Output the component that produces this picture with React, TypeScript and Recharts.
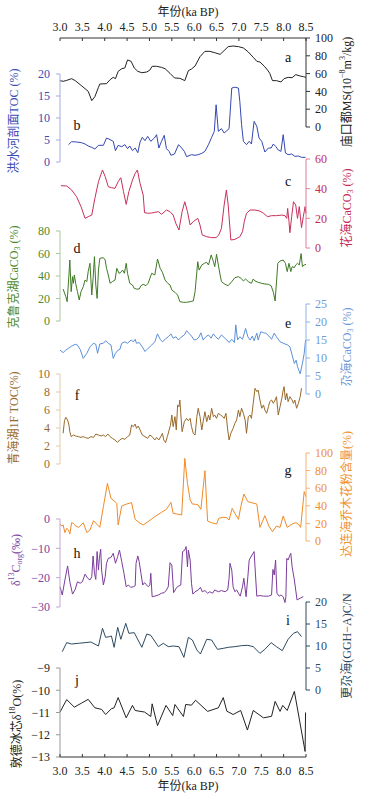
import React from 'react';
import { LineChart, Line, XAxis, YAxis } from 'recharts';

const W = 373;
const H = 801;
const X_LEFT = 60;
const X_RIGHT = 306;
const FONT = '"Liberation Serif", "Times New Roman", "Noto Sans CJK SC", serif';

const ageTicks = [3.0, 3.5, 4.0, 4.5, 5.0, 5.5, 6.0, 6.5, 7.0, 7.5, 8.0, 8.5];

// a 庙口都 MS
const msCurve: [number, number][] = [
  [3.0, 52.1], [3.07, 51.3], [3.15, 52.4], [3.26, 54.3], [3.34, 52.1], [3.45, 47.6], [3.56, 43.1],
  [3.63, 40.1], [3.71, 29.6], [3.78, 34.1], [3.86, 44.6], [3.89, 48.3], [4.04, 48.7], [4.12, 53.2],
  [4.19, 55.8], [4.24, 54.3], [4.3, 62.5], [4.38, 65.5], [4.45, 66.3], [4.51, 75.3], [4.59, 73.8],
  [4.66, 66.3], [4.74, 62.5], [4.83, 61.0], [4.94, 61.8], [5.01, 64.0], [5.06, 68.2], [5.16, 68.2],
  [5.27, 67.0], [5.35, 65.5], [5.46, 60.3], [5.56, 55.1], [5.68, 54.7], [5.79, 52.1], [5.87, 63.3],
  [5.94, 65.2], [6.02, 68.5], [6.13, 79.0], [6.24, 85.0], [6.35, 85.0], [6.46, 83.5], [6.58, 81.6],
  [6.69, 86.9], [6.76, 90.3], [6.87, 91.0], [6.99, 90.3], [7.1, 88.8], [7.21, 84.3], [7.32, 78.3],
  [7.4, 73.8], [7.47, 73.0], [7.57, 68.2], [7.64, 64.0], [7.69, 60.3], [7.75, 52.1], [7.84, 52.1],
  [7.94, 50.6], [8.01, 54.3], [8.1, 55.8], [8.19, 55.4], [8.27, 58.8], [8.37, 57.3], [8.44, 56.6],
  [8.5, 55.8],
];

// b 洪水河剖面 TOC
const hongshuiToc: [number, number][] = [
  [3.19, 3.94], [3.26, 4.62], [3.37, 4.55], [3.48, 4.39], [3.56, 4.09], [3.63, 3.64], [3.71, 3.33],
  [3.78, 2.95], [3.86, 3.79], [3.97, 3.79], [4.04, 5.45], [4.12, 5.08], [4.19, 4.7], [4.24, 2.58],
  [4.3, 3.79], [4.38, 3.48], [4.45, 3.94], [4.51, 3.03], [4.56, 3.64], [4.62, 2.58], [4.68, 3.18],
  [4.74, 2.12], [4.79, 4.55], [4.84, 5.61], [4.9, 4.85], [4.96, 5.83], [5.03, 4.7], [5.11, 5.45],
  [5.16, 6.21], [5.21, 3.18], [5.27, 4.7], [5.33, 6.06], [5.38, 3.03], [5.44, 2.42], [5.48, 1.52],
  [5.56, 1.82], [5.65, 3.94], [5.72, 3.18], [5.78, 2.42], [5.83, 1.21], [5.94, 1.67], [6.02, 1.52],
  [6.09, 1.67], [6.17, 1.97], [6.24, 2.42], [6.32, 3.94], [6.39, 5.61], [6.45, 6.97], [6.49, 13.0],
  [6.54, 6.97], [6.61, 7.58], [6.67, 6.59], [6.73, 7.12], [6.78, 7.58], [6.84, 16.8], [6.91, 17.0],
  [6.99, 16.8], [7.02, 13.8], [7.06, 8.48], [7.1, 4.7], [7.17, 3.94], [7.23, 4.7], [7.28, 4.09],
  [7.34, 9.24], [7.4, 8.11], [7.45, 5.45], [7.51, 4.7], [7.58, 2.27], [7.66, 3.18], [7.72, 3.18],
  [7.77, 4.09], [7.82, 3.56], [7.88, 2.73], [7.94, 2.42], [7.99, 6.21], [8.04, 2.05], [8.1, 1.67],
  [8.18, 1.82], [8.25, 1.29], [8.33, 1.36], [8.4, 1.06], [8.49, 1.06],
];

// c 花海 CaCO3
const huahaiCaco3: [number, number][] = [
  [3.02, 42.0], [3.15, 41.8], [3.26, 39.1], [3.37, 34.6], [3.47, 27.9], [3.56, 20.0], [3.63, 21.1],
  [3.71, 22.2], [3.78, 33.5], [3.86, 44.7], [3.95, 52.6], [4.01, 48.1], [4.08, 41.3], [4.15, 40.7],
  [4.23, 40.2], [4.3, 44.7], [4.36, 47.4], [4.42, 38.0], [4.48, 29.4], [4.54, 38.0], [4.62, 45.8],
  [4.68, 50.3], [4.73, 52.6], [4.79, 43.6], [4.86, 35.7], [4.89, 23.8], [4.97, 23.4], [5.05, 23.6],
  [5.12, 24.0], [5.2, 24.5], [5.27, 22.7], [5.38, 25.6], [5.46, 24.5], [5.53, 22.2], [5.59, 16.6],
  [5.66, 12.1], [5.73, 24.5], [5.79, 31.2], [5.85, 24.5], [5.91, 15.5], [5.98, 17.8], [6.08, 20.0],
  [6.13, 15.5], [6.18, 8.8], [6.28, 7.6], [6.39, 7.0], [6.49, 7.0], [6.55, 8.8], [6.61, 13.3],
  [6.67, 29.0], [6.72, 39.1], [6.76, 29.0], [6.82, 5.4], [6.91, 5.8], [7.02, 7.6], [7.08, 11.0],
  [7.12, 17.8], [7.17, 23.4], [7.25, 25.6], [7.36, 25.6], [7.47, 24.9], [7.55, 23.4], [7.64, 21.1],
  [7.73, 21.8], [7.84, 21.8], [7.96, 22.2], [8.03, 21.8], [8.07, 20.0], [8.09, 26.7], [8.12, 17.8],
  [8.14, 10.3], [8.18, 21.1], [8.22, 31.2], [8.27, 29.0], [8.31, 20.0], [8.35, 27.9], [8.4, 13.7],
  [8.44, 21.1], [8.48, 27.9], [8.5, 23.4],
];

// d 克鲁克湖 CaCO3
const keluCaco3: [number, number][] = [
  [3.07, 28.4], [3.13, 21.6], [3.16, 17.2], [3.2, 40.9], [3.22, 54.2], [3.25, 26.1], [3.28, 39.4],
  [3.3, 33.5], [3.32, 40.9], [3.35, 33.5], [3.39, 26.1], [3.43, 18.7], [3.47, 26.1], [3.52, 30.5],
  [3.56, 36.4], [3.6, 35.0], [3.63, 43.9], [3.67, 51.3], [3.71, 23.1], [3.74, 37.9], [3.77, 57.2],
  [3.8, 32.0], [3.83, 20.1], [3.86, 45.3], [3.89, 55.7], [3.97, 56.3], [4.01, 54.2], [4.04, 46.8],
  [4.08, 40.9], [4.12, 33.5], [4.17, 35.0], [4.23, 36.4], [4.27, 46.8], [4.32, 42.4], [4.36, 43.3],
  [4.4, 45.3], [4.44, 42.4], [4.48, 51.3], [4.51, 42.4], [4.56, 33.5], [4.62, 32.0], [4.66, 29.0],
  [4.71, 28.4], [4.77, 28.4], [4.81, 31.4], [4.86, 32.6], [4.92, 31.4], [4.97, 33.5], [5.05, 42.4],
  [5.12, 40.9], [5.18, 55.1], [5.24, 46.8], [5.29, 43.3], [5.35, 36.4], [5.41, 33.5], [5.46, 32.0],
  [5.5, 27.6], [5.57, 25.5], [5.63, 23.1], [5.68, 17.2], [5.76, 16.6], [5.83, 16.6], [5.91, 17.2],
  [5.98, 17.8], [6.02, 26.1], [6.08, 52.7], [6.11, 45.3], [6.17, 49.8], [6.23, 51.3], [6.28, 52.1],
  [6.32, 49.8], [6.38, 58.7], [6.43, 52.7], [6.46, 48.3], [6.5, 59.3], [6.54, 49.8], [6.58, 40.9],
  [6.61, 35.0], [6.69, 32.6], [6.76, 31.4], [6.84, 35.0], [6.91, 38.5], [6.99, 39.4], [7.05, 37.9],
  [7.1, 35.6], [7.15, 37.3], [7.21, 35.0], [7.28, 33.5], [7.32, 37.3], [7.36, 35.6], [7.43, 34.4],
  [7.51, 33.5], [7.58, 32.9], [7.66, 32.6], [7.72, 31.4], [7.77, 25.5], [7.81, 17.8], [7.87, 51.3],
  [7.92, 53.3], [7.99, 54.2], [8.04, 51.3], [8.08, 43.9], [8.12, 51.3], [8.16, 43.9], [8.19, 48.3],
  [8.24, 47.4], [8.27, 49.8], [8.31, 51.3], [8.35, 49.8], [8.39, 59.9], [8.42, 48.3], [8.46, 49.8],
  [8.5, 50.4],
];

// e 尕海 CaCO3
const gahaiCaco3: [number, number][] = [
  [3.0, 12.2], [3.07, 11.5], [3.13, 12.2], [3.19, 12.7], [3.26, 13.3], [3.34, 13.8], [3.39, 13.6],
  [3.45, 12.4], [3.52, 9.9], [3.6, 11.3], [3.67, 13.1], [3.75, 14.1], [3.8, 13.8], [3.84, 11.3],
  [3.89, 13.9], [3.97, 14.1], [4.02, 14.8], [4.08, 14.1], [4.14, 13.6], [4.19, 9.9], [4.24, 11.3],
  [4.3, 12.2], [4.34, 12.4], [4.38, 14.1], [4.45, 14.5], [4.51, 14.1], [4.59, 15.0], [4.64, 14.5],
  [4.68, 15.2], [4.71, 14.1], [4.77, 14.3], [4.84, 13.1], [4.9, 11.8], [4.97, 12.7], [5.05, 13.6],
  [5.12, 14.5], [5.18, 16.7], [5.24, 15.2], [5.29, 14.5], [5.35, 15.2], [5.42, 15.9], [5.48, 16.7],
  [5.53, 15.5], [5.59, 15.9], [5.65, 15.0], [5.7, 15.7], [5.78, 16.4], [5.83, 17.6], [5.88, 16.9],
  [5.94, 16.1], [6.0, 15.0], [6.06, 15.2], [6.11, 15.9], [6.15, 17.0], [6.2, 15.0], [6.26, 15.9],
  [6.32, 16.4], [6.38, 15.5], [6.43, 16.7], [6.48, 15.9], [6.54, 15.2], [6.61, 16.4], [6.67, 15.7],
  [6.73, 15.0], [6.78, 14.3], [6.84, 15.2], [6.9, 14.3], [6.93, 19.2], [6.97, 15.0], [7.02, 15.9],
  [7.08, 15.2], [7.15, 18.2], [7.2, 15.9], [7.25, 15.0], [7.3, 16.1], [7.34, 14.8], [7.4, 16.9],
  [7.43, 15.0], [7.49, 17.3], [7.55, 17.0], [7.6, 16.9], [7.67, 16.1], [7.73, 15.2], [7.79, 16.9],
  [7.84, 15.9], [7.92, 14.5], [7.99, 14.1], [8.09, 13.6], [8.14, 13.1], [8.19, 10.8], [8.24, 8.5],
  [8.28, 9.4], [8.31, 7.6], [8.37, 5.6], [8.42, 8.5], [8.46, 11.3], [8.49, 15.0],
];

// f 青海湖 1F TOC
const qinghaiToc: [number, number][] = [
  [3.07, 3.41], [3.1, 4.81], [3.13, 5.19], [3.17, 4.89], [3.2, 4.33], [3.22, 3.59], [3.25, 3.04],
  [3.3, 3.22], [3.35, 3.11], [3.41, 3.04], [3.47, 2.96], [3.52, 3.04], [3.57, 2.93], [3.63, 2.85],
  [3.69, 3.04], [3.75, 2.96], [3.8, 3.33], [3.86, 3.22], [3.92, 3.11], [3.97, 3.22], [4.02, 3.04],
  [4.07, 3.33], [4.12, 3.04], [4.17, 2.85], [4.23, 2.67], [4.28, 2.41], [4.34, 2.67], [4.39, 2.85],
  [4.45, 2.74], [4.51, 3.04], [4.56, 3.22], [4.6, 4.33], [4.64, 4.15], [4.68, 4.44], [4.71, 3.96],
  [4.75, 4.22], [4.79, 3.78], [4.84, 3.22], [4.9, 3.04], [4.96, 2.85], [5.01, 3.22], [5.06, 3.04],
  [5.12, 2.67], [5.16, 2.96], [5.21, 2.67], [5.26, 3.11], [5.29, 3.41], [5.32, 2.67], [5.36, 2.37],
  [5.4, 3.04], [5.44, 3.78], [5.47, 4.33], [5.5, 5.44], [5.53, 4.15], [5.57, 5.26], [5.6, 3.78],
  [5.63, 6.56], [5.66, 6.37], [5.68, 7.11], [5.7, 5.63], [5.73, 3.59], [5.78, 4.7], [5.83, 5.07],
  [5.87, 4.81], [5.91, 5.07], [5.94, 4.15], [5.98, 3.41], [6.02, 3.22], [6.06, 5.26], [6.09, 6.19],
  [6.13, 5.26], [6.17, 3.78], [6.2, 4.7], [6.24, 5.81], [6.28, 4.7], [6.32, 5.44], [6.35, 4.89],
  [6.39, 6.19], [6.43, 5.26], [6.46, 5.44], [6.5, 5.07], [6.54, 5.63], [6.59, 5.44], [6.64, 5.26],
  [6.67, 5.07], [6.71, 5.63], [6.75, 3.78], [6.78, 2.67], [6.82, 3.41], [6.87, 3.96], [6.91, 4.52],
  [6.95, 4.89], [6.99, 6.0], [7.02, 5.26], [7.06, 6.19], [7.1, 5.63], [7.14, 4.89], [7.17, 3.41],
  [7.21, 5.26], [7.25, 5.44], [7.28, 5.07], [7.32, 6.74], [7.36, 8.41], [7.4, 8.04], [7.43, 8.22],
  [7.47, 7.11], [7.51, 6.19], [7.55, 6.56], [7.58, 6.0], [7.62, 5.63], [7.66, 6.37], [7.69, 6.93],
  [7.73, 7.11], [7.77, 6.74], [7.81, 7.11], [7.84, 7.48], [7.88, 5.44], [7.92, 6.37], [7.96, 7.3],
  [7.99, 8.22], [8.01, 8.59], [8.04, 7.11], [8.07, 7.85], [8.1, 6.93], [8.14, 7.48], [8.18, 7.19],
  [8.22, 6.74], [8.25, 7.11], [8.29, 6.19], [8.33, 6.74], [8.37, 7.48], [8.4, 8.41],
];

// g 达连海 乔木花粉含量
const dalianPollen: [number, number][] = [
  [3.0, 19.3], [3.04, 17.0], [3.07, 18.2], [3.11, 9.5], [3.15, 14.4], [3.19, 12.5], [3.22, 8.0],
  [3.26, 20.8], [3.3, 20.1], [3.35, 17.0], [3.42, 15.5], [3.52, 20.8], [3.6, 9.5], [3.67, 12.5],
  [3.75, 23.1], [3.82, 19.3], [3.89, 15.5], [3.97, 39.0], [4.06, 65.5], [4.14, 48.5], [4.23, 44.7],
  [4.27, 42.8], [4.3, 18.2], [4.38, 39.8], [4.49, 42.0], [4.6, 43.6], [4.68, 24.6], [4.77, 20.8],
  [4.86, 18.2], [4.97, 22.0], [5.12, 27.7], [5.27, 32.6], [5.38, 36.0], [5.48, 43.9], [5.53, 31.4],
  [5.61, 30.7], [5.72, 29.5], [5.79, 93.9], [5.85, 65.5], [5.91, 46.6], [5.96, 42.0], [6.03, 41.7],
  [6.09, 40.9], [6.15, 36.0], [6.24, 79.9], [6.3, 22.7], [6.39, 20.8], [6.5, 19.3], [6.55, 25.8],
  [6.65, 26.9], [6.73, 26.5], [6.78, 23.9], [6.85, 37.1], [6.91, 31.4], [6.99, 24.6], [7.04, 38.3],
  [7.11, 53.4], [7.2, 44.7], [7.28, 43.6], [7.4, 42.0], [7.47, 15.5], [7.58, 28.8], [7.67, 17.0],
  [7.75, 10.6], [7.84, 17.0], [7.92, 15.5], [7.99, 28.4], [8.08, 15.5], [8.19, 19.3], [8.27, 20.8],
  [8.33, 19.3], [8.38, 15.5], [8.46, 56.1], [8.5, 50.4],
];

// h δ13C org
const d13cOrg: [number, number][] = [
  [3.0, -23.1], [3.05, -25.9], [3.11, -20.8], [3.17, -16.0], [3.22, -21.4], [3.28, -25.6], [3.34, -24.0],
  [3.39, -21.4], [3.45, -21.9], [3.5, -21.4], [3.56, -18.8], [3.62, -20.2], [3.67, -20.8], [3.71, -19.7],
  [3.74, -12.6], [3.77, -18.5], [3.8, -20.6], [3.83, -11.1], [3.86, -17.4], [3.88, -13.4], [3.91, -10.3],
  [3.93, -17.4], [3.97, -22.5], [4.01, -19.7], [4.04, -15.1], [4.08, -13.4], [4.14, -13.1], [4.19, -11.7],
  [4.24, -15.1], [4.29, -12.8], [4.33, -10.6], [4.38, -14.5], [4.43, -18.5], [4.48, -23.1], [4.53, -22.5],
  [4.58, -23.3], [4.64, -23.1], [4.68, -22.8], [4.7, -15.1], [4.74, -12.6], [4.77, -14.5], [4.81, -18.5],
  [4.85, -22.5], [4.89, -21.7], [4.92, -22.2], [4.97, -23.1], [5.01, -22.5], [5.03, -18.5], [5.06, -26.5],
  [5.12, -26.3], [5.2, -25.9], [5.27, -25.3], [5.33, -25.1], [5.38, -24.2], [5.42, -23.1], [5.46, -14.9],
  [5.5, -15.7], [5.54, -25.1], [5.61, -23.3], [5.66, -22.8], [5.7, -22.5], [5.74, -11.1], [5.79, -10.6],
  [5.82, -9.4], [5.85, -16.3], [5.87, -10.6], [5.91, -14.0], [5.94, -21.9], [5.97, -25.6], [6.02, -24.8],
  [6.09, -24.2], [6.14, -23.3], [6.18, -24.8], [6.24, -24.4], [6.3, -25.3], [6.35, -24.8], [6.41, -25.3],
  [6.46, -24.2], [6.54, -24.8], [6.61, -24.4], [6.69, -24.8], [6.75, -24.2], [6.78, -20.2], [6.8, -15.1],
  [6.84, -17.4], [6.87, -23.1], [6.91, -24.8], [6.95, -24.2], [6.99, -25.3], [7.03, -26.3], [7.08, -23.1],
  [7.11, -20.2], [7.16, -26.5], [7.2, -19.7], [7.23, -14.0], [7.28, -12.6], [7.34, -11.1], [7.36, -16.3],
  [7.4, -26.3], [7.47, -26.1], [7.55, -26.3], [7.66, -26.3], [7.73, -25.9], [7.76, -17.2], [7.79, -19.1],
  [7.82, -14.0], [7.85, -25.3], [7.9, -26.3], [7.94, -25.9], [7.99, -26.5], [8.03, -28.5], [8.05, -26.5],
  [8.07, -13.4], [8.1, -14.0], [8.14, -12.3], [8.16, -11.7], [8.19, -16.3], [8.24, -20.8], [8.3, -27.6],
  [8.37, -27.0], [8.44, -26.5],
];

// i 更尕海 (GGH-A) C/N
const gghCn: [number, number][] = [
  [3.05, 8.71], [3.15, 10.76], [3.26, 10.45], [3.41, 10.61], [3.56, 10.76], [3.69, 10.91], [3.86, 10.0],
  [3.95, 14.02], [4.02, 11.97], [4.1, 12.12], [4.15, 12.27], [4.21, 9.7], [4.29, 14.24], [4.36, 11.52],
  [4.47, 15.15], [4.54, 12.88], [4.66, 13.03], [4.83, 9.7], [4.94, 12.73], [5.03, 12.42], [5.2, 9.85],
  [5.31, 10.61], [5.42, 9.85], [5.53, 10.0], [5.66, 9.85], [5.77, 7.42], [5.87, 11.97], [5.96, 11.36],
  [6.06, 9.09], [6.14, 8.18], [6.28, 11.52], [6.39, 11.36], [6.52, 9.24], [6.65, 9.47], [6.76, 9.7],
  [6.91, 9.85], [7.06, 10.08], [7.2, 10.15], [7.32, 9.85], [7.47, 8.33], [7.58, 9.24], [7.72, 10.76],
  [7.84, 9.85], [7.97, 8.94], [8.1, 11.52], [8.22, 12.88], [8.31, 13.26], [8.4, 12.12],
];

// j 敦德冰芯 δ18O
const dundeD18o: [number, number][] = [
  [3.0, -10.98], [3.15, -10.42], [3.32, -10.76], [3.48, -10.58], [3.63, -10.41], [3.78, -10.79],
  [3.93, -10.86], [4.02, -11.09], [4.15, -10.83], [4.21, -10.79], [4.3, -10.33], [4.48, -11.24],
  [4.62, -10.68], [4.68, -10.91], [4.89, -10.98], [5.03, -11.18], [5.06, -10.61], [5.18, -11.59],
  [5.37, -10.68], [5.52, -11.14], [5.57, -10.64], [5.76, -11.18], [5.81, -10.64], [5.94, -10.67],
  [6.03, -10.45], [6.3, -10.95], [6.54, -10.79], [6.65, -10.33], [6.73, -10.94], [6.87, -11.09],
  [7.04, -10.91], [7.19, -11.79], [7.32, -10.91], [7.55, -11.24], [7.73, -11.17], [7.81, -10.5],
  [7.92, -10.95], [7.98, -10.68], [8.08, -10.91], [8.24, -10.05], [8.48, -12.75], [8.49, -11.0],
];

const minus = (v: number) => String(v).replace('-', '−');

function Sup({ children }: { children: React.ReactNode }) {
  return <tspan fontSize={8} dy={-5}>{children}</tspan>;
}
function Sub({ children }: { children: React.ReactNode }) {
  return <tspan fontSize={8} dy={3}>{children}</tspan>;
}
function Back({ d, children }: { d: number; children: React.ReactNode }) {
  return <tspan dy={d}>{children}</tspan>;
}

interface PanelProps {
  curve: [number, number][];
  top: number;
  bottom: number;
  domain: [number, number];
  ticks: number[];
  side: 'left' | 'right';
  stroke: string;
  textColor: string;
  axisColor: string;
  title: React.ReactNode;
  titleX: number;
  titleY: number;
  letter: string;
  letterX: number;
  letterY: number;
  xAxis?: 'top' | 'bottom';
}

const AXIS_H = 30;

function TopTick(props: any) {
  const { x, y, payload } = props;
  return (
    <g>
      <line x1={x} x2={x} y1={y} y2={y + 3} stroke="#333" />
      <text x={x} y={y - 7.5} textAnchor="middle" fontSize={12} fontFamily={FONT} fill="#222">
        {Number(payload.value).toFixed(1)}
      </text>
    </g>
  );
}

function BottomTick(props: any) {
  const { x, y, payload } = props;
  return (
    <g>
      <line x1={x} x2={x} y1={y} y2={y - 3} stroke="#333" />
      <text x={x} y={y + 18} textAnchor="middle" fontSize={12} fontFamily={FONT} fill="#222">
        {Number(payload.value).toFixed(1)}
      </text>
    </g>
  );
}

function Panel(p: PanelProps) {
  const data = p.curve.map(([age, v]) => ({ age, v }));
  const margin = {
    top: p.xAxis === 'top' ? p.top - AXIS_H : p.top,
    bottom: p.xAxis === 'bottom' ? H - p.bottom - AXIS_H : H - p.bottom,
    left: p.side === 'left' ? 0 : X_LEFT,
    right: p.side === 'right' ? 0 : W - X_RIGHT,
  };
  const titleLabel = () => (
    <g>
      <text
        x={p.titleX}
        y={p.titleY}
        transform={`rotate(-90 ${p.titleX} ${p.titleY})`}
        textAnchor="middle"
        dominantBaseline="central"
        fontSize={12}
        fontFamily={FONT}
        fill={p.textColor}
      >
        {p.title}
      </text>
      <text
        x={p.letterX}
        y={p.letterY}
        textAnchor="middle"
        dominantBaseline="central"
        fontSize={14}
        fontFamily={FONT}
        fill="#111"
      >
        {p.letter}
      </text>
    </g>
  );
  const xLabel = (y: number) => () => (
    <text x={188} y={y} textAnchor="middle" dominantBaseline="central" fontSize={12} fontFamily={FONT} fill="#222">
      年份(ka BP)
    </text>
  );
  return (
    <div style={{ position: 'absolute', left: 0, top: 0 }}>
      <LineChart width={W} height={H} data={data} margin={margin}>
        <XAxis
          dataKey="age"
          type="number"
          domain={[3, 8.5]}
          ticks={ageTicks}
          hide={!p.xAxis}
          orientation={p.xAxis ?? 'bottom'}
          height={AXIS_H}
          tickSize={0}
          tickMargin={0}
          tickLine={false}
          axisLine={{ stroke: '#333' }}
          tick={p.xAxis === 'top' ? <TopTick /> : <BottomTick />}
          interval={0}
          label={p.xAxis === 'top' ? xLabel(12) : xLabel(786)}
        />
        <YAxis
          orientation={p.side}
          width={p.side === 'left' ? X_LEFT : W - X_RIGHT}
          domain={p.domain}
          ticks={p.ticks}
          interval={0}
          tickSize={4}
          tickMargin={p.side === 'left' ? 6 : 5}
          axisLine={{ stroke: p.axisColor }}
          tickLine={{ stroke: p.axisColor }}
          tick={{ fill: p.textColor, fontSize: 12, fontFamily: FONT }}
          tickFormatter={minus}
          label={titleLabel}
        />
        <Line
          type="linear"
          dataKey="v"
          stroke={p.stroke}
          strokeWidth={1}
          dot={false}
          isAnimationActive={false}
        />
      </LineChart>
    </div>
  );
}

export default function App() {
  return (
    <div style={{ position: 'absolute', left: 0, top: 0, width: W, height: H, background: '#fff' }}>
      <Panel
        curve={msCurve} top={38} bottom={127} domain={[0, 100]} ticks={[0, 20, 40, 60, 80, 100]}
        side="right" stroke="#222" textColor="#222" axisColor="#333"
        title={<>庙口都MS(10<Sup>−8</Sup><Back d={5}>m</Back><Sup>3</Sup><Back d={5}>/kg)</Back></>}
        titleX={347} titleY={92} letter="a" letterX={288} letterY={57} xAxis="top"
      />
      <Panel
        curve={hongshuiToc} top={74} bottom={162} domain={[0, 20]} ticks={[0, 5, 10, 15, 20]}
        side="left" stroke="#3347b3" textColor="#3a4db5" axisColor="#a3acdf"
        title="洪水河剖面TOC (%)" titleX={14} titleY={121} letter="b" letterX={77} letterY={125}
      />
      <Panel
        curve={huahaiCaco3} top={159} bottom={248} domain={[0, 60]} ticks={[0, 20, 40, 60]}
        side="right" stroke="#c8305a" textColor="#c42a56" axisColor="#e07f9a"
        title={<>花海CaCO<Sub>3</Sub><Back d={-3}> (%)</Back></>}
        titleX={347} titleY={208} letter="c" letterX={288} letterY={181}
      />
      <Panel
        curve={keluCaco3} top={231} bottom={321} domain={[0, 80]} ticks={[0, 20, 40, 60, 80]}
        side="left" stroke="#3f7a25" textColor="#4e8a2e" axisColor="#a9c79b"
        title={<>克鲁克湖CaCO<Sub>3</Sub><Back d={-3}> (%)</Back></>}
        titleX={14} titleY={277} letter="d" letterX={77} letterY={248}
      />
      <Panel
        curve={gahaiCaco3} top={304} bottom={394} domain={[0, 25]} ticks={[0, 5, 10, 15, 20, 25]}
        side="right" stroke="#5b8fd9" textColor="#6f9ad8" axisColor="#92b3e6"
        title={<>尕海CaCO<Sub>3</Sub><Back d={-3}> (%)</Back></>}
        titleX={347} titleY={347} letter="e" letterX={288} letterY={323}
      />
      <Panel
        curve={qinghaiToc} top={374} bottom={464} domain={[0, 10]} ticks={[0, 2, 4, 6, 8, 10]}
        side="left" stroke="#98692a" textColor="#9a6b2e" axisColor="#e2cba8"
        title="青海湖1F TOC(%)" titleX={14} titleY={418} letter="f" letterX={77} letterY={395}
      />
      <Panel
        curve={dalianPollen} top={453} bottom={541} domain={[0, 100]} ticks={[0, 20, 40, 60, 80, 100]}
        side="right" stroke="#f08a26" textColor="#f0902e" axisColor="#f5b271"
        title="达连海乔木花粉含量(%)" titleX={347} titleY={494} letter="g" letterX={288} letterY={470}
      />
      <Panel
        curve={d13cOrg} top={519} bottom={607} domain={[-30, 0]} ticks={[-30, -20, -10, 0]}
        side="left" stroke="#7a3d9c" textColor="#7d44a0" axisColor="#c1a6d5"
        title={<>δ<Sup>13</Sup><Back d={5}>C</Back><Sub>org</Sub><Back d={-3}>(‰)</Back></>}
        titleX={16} titleY={560} letter="h" letterX={77} letterY={553}
      />
      <Panel
        curve={gghCn} top={602} bottom={690} domain={[0, 20]} ticks={[0, 5, 10, 15, 20]}
        side="right" stroke="#2d4a60" textColor="#2f4a5f" axisColor="#2f4a5f"
        title="更尕海(GGH−A)C/N" titleX={347} titleY={646} letter="i" letterX={288} letterY={620}
      />
      <Panel
        curve={dundeD18o} top={668} bottom={757} domain={[-13, -9]} ticks={[-13, -12, -11, -10, -9]}
        side="left" stroke="#222" textColor="#222" axisColor="#999"
        title={<>敦德冰芯δ<Sup>18</Sup><Back d={5}>O(%)</Back></>}
        titleX={17} titleY={724} letter="j" letterX={77} letterY={680} xAxis="bottom"
      />
    </div>
  );
}
